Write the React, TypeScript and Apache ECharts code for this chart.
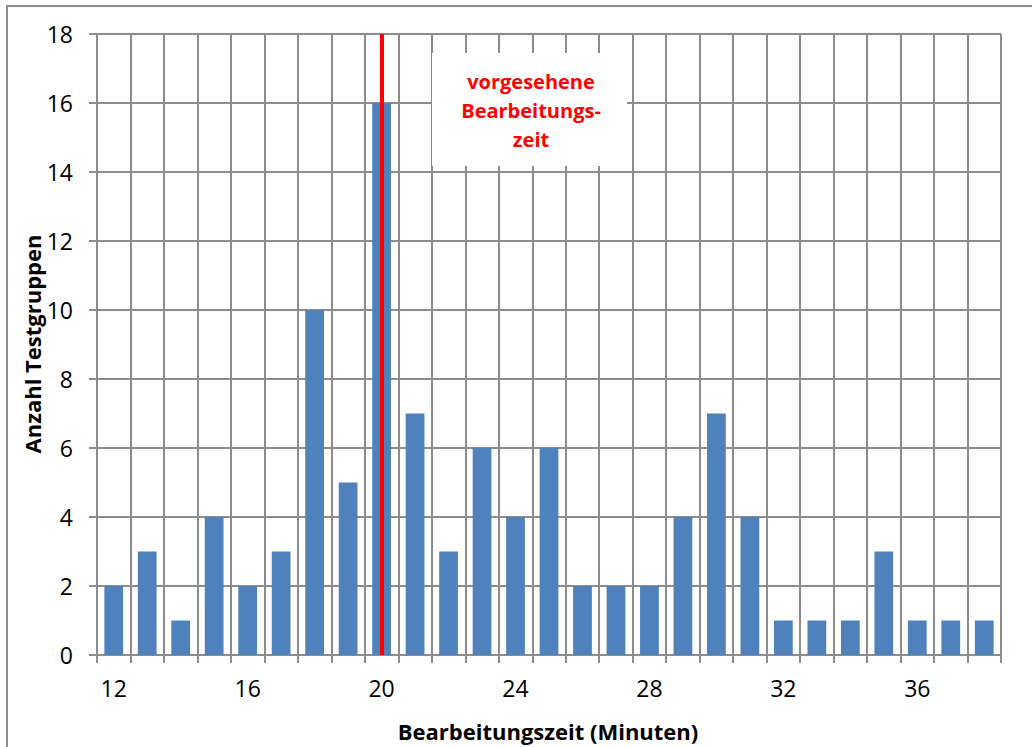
import React, { useEffect, useRef } from "react";
import * as echarts from "echarts";

const categories = ["12","13","14","15","16","17","18","19","20","21","22","23","24","25","26","27","28","29","30","31","32","33","34","35","36","37","38"];
const counts = [2,3,1,4,2,3,10,5,16,7,3,6,4,6,2,2,2,4,7,4,1,1,1,3,1,1,1];
const yTicks = { min: 0, max: 18, interval: 2 };
const plannedTime = "20";
const xTitle = "Bearbeitungszeit (Minuten)";
const yTitle = "Anzahl Testgruppen";
const noteText = "vorgesehene\nBearbeitungs-\nzeit";

const FONT = "'Open Sans', Lato, sans-serif";
const GRID_COLOR = "#8c8c8c";

export default function App() {
  const ref = useRef<HTMLDivElement>(null);
  useEffect(() => {
    if (!ref.current) return;
    const chart = echarts.init(ref.current, null, { renderer: "svg" });
    chart.setOption({
      animation: false,
      backgroundColor: "#ffffff",
      grid: { left: 97, top: 34, right: 31, bottom: 92, containLabel: false },
      xAxis: {
        type: "category",
        data: categories,
        boundaryGap: true,
        axisLine: { show: true, lineStyle: { color: GRID_COLOR, width: 2 } },
        axisTick: { show: true, interval: 0, length: 8, inside: false, lineStyle: { color: GRID_COLOR, width: 2 } },
        splitLine: { show: true, interval: 0, lineStyle: { color: GRID_COLOR, width: 2 } },
        axisLabel: { interval: 3, color: "#000", fontSize: 23, fontFamily: FONT, margin: 21 },
      },
      yAxis: {
        type: "value",
        min: yTicks.min,
        max: yTicks.max,
        interval: yTicks.interval,
        axisLine: { show: true, lineStyle: { color: GRID_COLOR, width: 2 } },
        axisTick: { show: true, length: 8, inside: false, lineStyle: { color: GRID_COLOR, width: 2 } },
        splitLine: { show: true, lineStyle: { color: GRID_COLOR, width: 2 } },
        axisLabel: { color: "#000", fontSize: 23, fontFamily: FONT, margin: 24 },
      },
      series: [
        {
          type: "bar",
          data: counts,
          barWidth: "56%",
          itemStyle: { color: "#4f81bd" },
          markLine: {
            silent: true,
            symbol: "none",
            label: { show: false },
            lineStyle: { color: "#ff0000", width: 4, type: "solid" },
            data: [{ xAxis: plannedTime }],
            z: 10,
          },
        },
      ],
      graphic: [
        {
          type: "rect",
          z: 100,
          shape: { x: 7, y: 6, width: 1040, height: 780 },
          style: { fill: "none", stroke: "#8c8c8c", lineWidth: 2 },
          silent: true,
        },
        {
          type: "rect",
          z: 100,
          shape: { x: 432, y: 53, width: 195, height: 113 },
          style: { fill: "#ffffff", stroke: "none" },
        },
        {
          type: "text",
          z: 101,
          x: 531,
          y: 110,
          style: {
            text: noteText,
            fill: "#ff0000",
            font: `bold 20px ${FONT}`,
            align: "center",
            verticalAlign: "middle",
            lineHeight: 29,
          },
        },
        {
          type: "text",
          z: 101,
          x: 548,
          y: 731,
          style: {
            text: xTitle,
            fill: "#000",
            font: `bold 22px ${FONT}`,
            align: "center",
            verticalAlign: "middle",
          },
        },
        {
          type: "text",
          z: 101,
          x: 32,
          y: 344,
          rotation: Math.PI / 2,
          style: {
            text: yTitle,
            fill: "#000",
            font: `bold 22px ${FONT}`,
            align: "center",
            verticalAlign: "middle",
          },
        },
      ],
    });
    return () => chart.dispose();
  }, []);
  return (
    <div
      ref={ref}
      style={{ position: "fixed", left: 0, top: 0, width: 1032, height: 747 }}
    />
  );
}
